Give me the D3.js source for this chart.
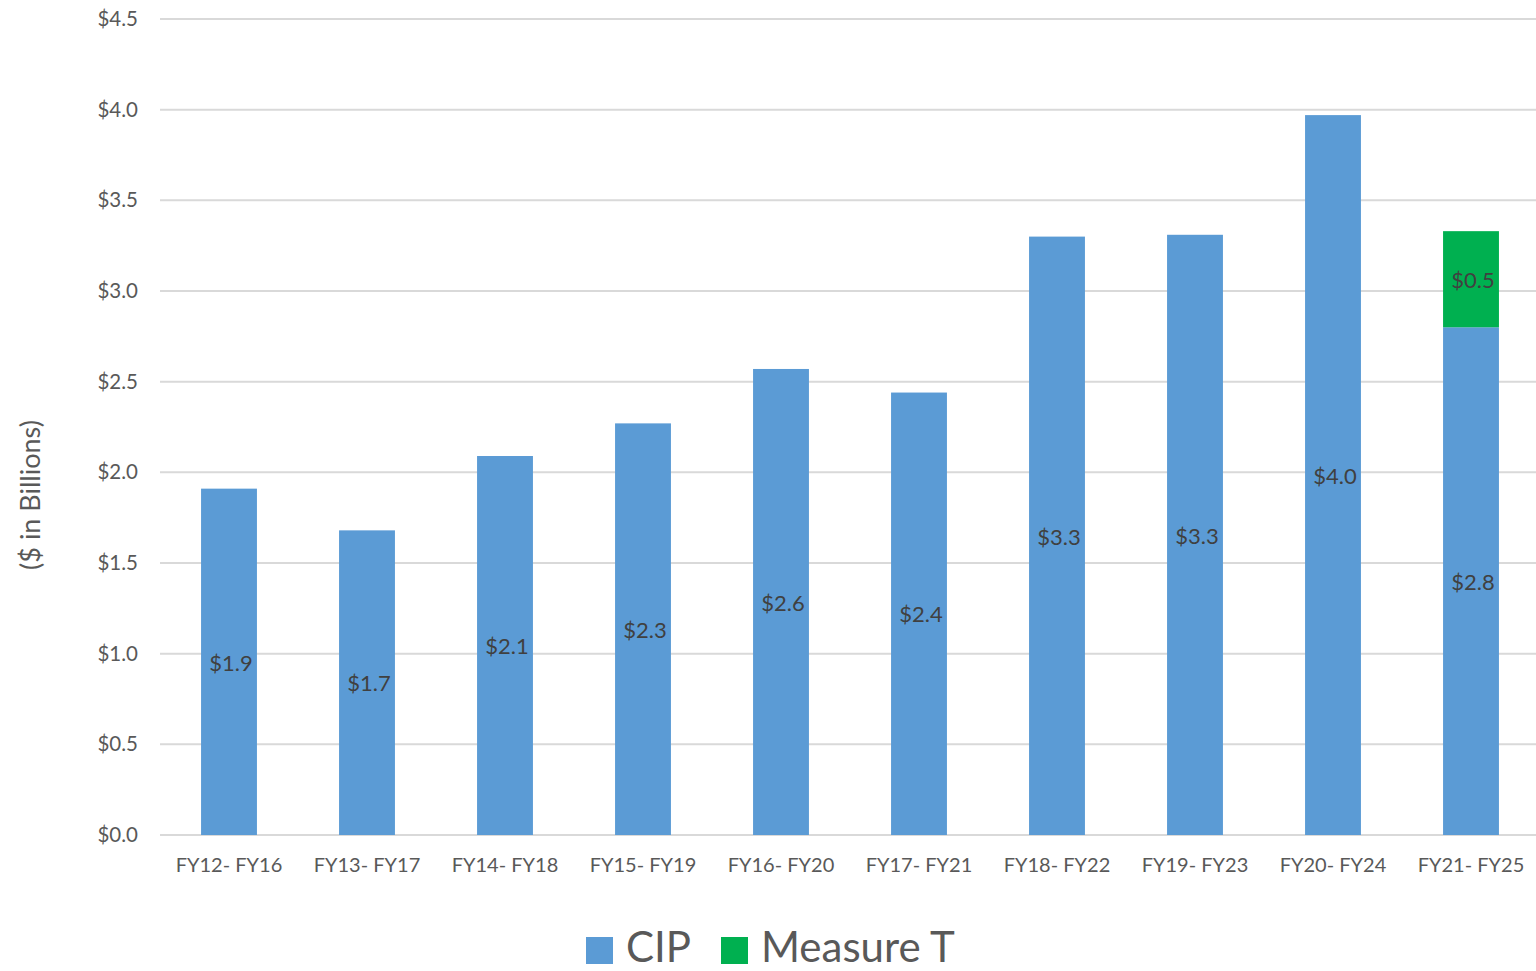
<!DOCTYPE html>
<html>
<head>
<meta charset="utf-8">
<script src="https://cdn.jsdelivr.net/npm/d3@7"></script>
<style>
  body { margin: 0; background: #fff; }
  svg text { font-family: Lato, "Open Sans", sans-serif; }
</style>
</head>
<body>
<svg id="chart" width="1536" height="971"></svg>
<script>
// chart data
var periods = ["FY12- FY16", "FY13- FY17", "FY14- FY18", "FY15- FY19", "FY16- FY20",
               "FY17- FY21", "FY18- FY22", "FY19- FY23", "FY20- FY24", "FY21- FY25"];
var cipValues = [1.91, 1.68, 2.09, 2.27, 2.57, 2.44, 3.30, 3.31, 3.97, 2.80];
var measureTValues = [0, 0, 0, 0, 0, 0, 0, 0, 0, 0.53];
var yTicks = [0, 0.5, 1, 1.5, 2, 2.5, 3, 3.5, 4, 4.5];
var seriesNames = ["CIP", "Measure T"];
var seriesColors = ["#5b9bd5", "#00b050"];

var svg = d3.select("#chart");

var x = d3.scaleBand().domain(periods).range([160, 1540]).paddingInner(0.595).paddingOuter(0.2975);
var y = d3.scaleLinear().domain([0, 4.5]).range([835, 19]);

// gridlines
svg.append("g").selectAll("line").data(yTicks).enter().append("line")
  .attr("x1", 160).attr("x2", 1536)
  .attr("y1", function(d) { return y(d); })
  .attr("y2", function(d) { return y(d); })
  .attr("stroke", "#d9d9d9").attr("stroke-width", 2);

// y axis labels
var yAxis = d3.axisLeft(y).tickValues(yTicks).tickSize(0).tickPadding(0)
  .tickFormat(function(d) { return "$" + d3.format(".1f")(d); });
var yg = svg.append("g").attr("transform", "translate(138,0)").call(yAxis);
yg.select(".domain").remove();
yg.selectAll("text").attr("font-size", 20.5).attr("fill", "#595959").style("font-family", "Lato, 'Open Sans', sans-serif");

// x axis labels
var xAxis = d3.axisBottom(x).tickSize(0).tickPadding(23);
var xg = svg.append("g").attr("transform", "translate(0,835)").call(xAxis);
xg.select(".domain").remove();
xg.selectAll("text").attr("font-size", 20).attr("fill", "#595959").style("font-family", "Lato, 'Open Sans', sans-serif");

// stacked bars
var rows = periods.map(function(p, i) { return { period: p, cip: cipValues[i], mt: measureTValues[i] }; });
var stack = d3.stack().keys(["cip", "mt"]);
var layers = stack(rows);

svg.append("g").selectAll("g").data(layers).enter().append("g")
  .attr("fill", function(d, i) { return seriesColors[i]; })
  .selectAll("rect").data(function(d) { return d; }).enter().append("rect")
  .attr("x", function(d) { return x(d.data.period); })
  .attr("width", x.bandwidth())
  .attr("y", function(d) { return y(d[1]); })
  .attr("height", function(d) { return y(d[0]) - y(d[1]); });

// data labels
layers.forEach(function(layer) {
  svg.append("g").selectAll("text").data(layer.filter(function(d) { return d[1] - d[0] > 0; }))
    .enter().append("text")
    .attr("x", function(d) { return x(d.data.period) + x.bandwidth() / 2 + 2; })
    .attr("y", function(d) { return (y(d[0]) + y(d[1])) / 2 + 1; })
    .attr("dy", "0.35em")
    .attr("text-anchor", "middle")
    .attr("font-size", 22)
    .attr("fill", "#404040")
    .text(function(d) { return "$" + d3.format(".1f")(d[1] - d[0]); });
});

// y axis title
svg.append("text")
  .attr("transform", "translate(40,495) rotate(-90)")
  .attr("text-anchor", "middle")
  .attr("font-size", 27)
  .attr("fill", "#595959")
  .text("($ in Billions)");

// legend
var legendX = [586, 721];
var lg = svg.append("g").selectAll("g").data(seriesNames).enter().append("g")
  .attr("transform", function(d, i) { return "translate(" + legendX[i] + ",937)"; });
lg.append("rect").attr("width", 27).attr("height", 27)
  .attr("fill", function(d, i) { return seriesColors[i]; });
lg.append("text").attr("x", 40).attr("y", 25)
  .attr("font-size", 42).attr("fill", "#595959")
  .text(function(d) { return d; });
</script>
</body>
</html>
